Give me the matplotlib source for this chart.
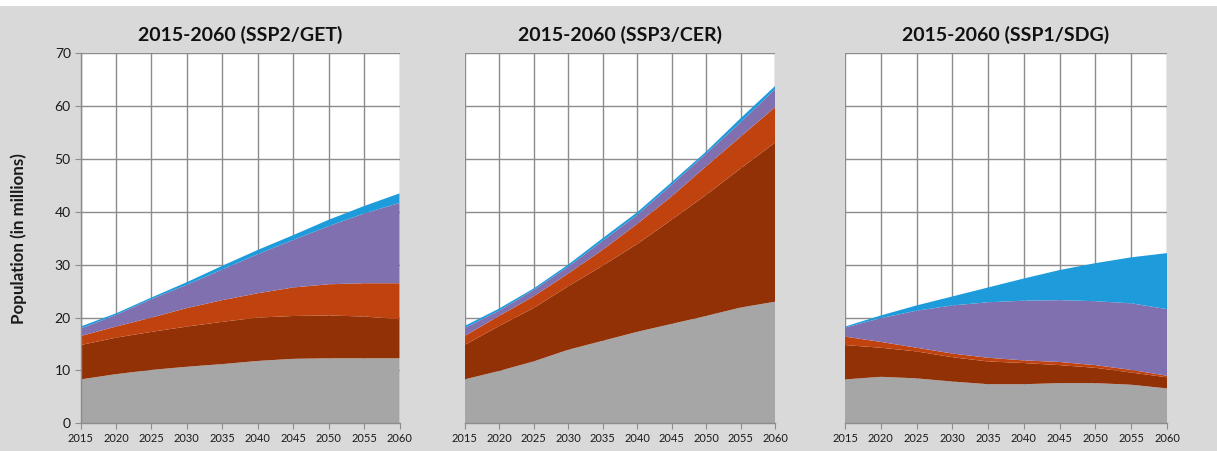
import matplotlib
matplotlib.use("Agg")
import matplotlib.pyplot as plt
import numpy as np
from matplotlib.patches import Rectangle

years = [2015, 2020, 2025, 2030, 2035, 2040, 2045, 2050, 2055, 2060]
titles = ["2015-2060 (SSP2/GET)", "2015-2060 (SSP3/CER)", "2015-2060 (SSP1/SDG)"]
colors = ["#A6A6A6", "#923006", "#C0430F", "#8170B0", "#1E9BDB"]

# cumulative tops of each band (millions)
ssp2_gray   = [8.3, 9.3, 10.1, 10.7, 11.2, 11.8, 12.2, 12.3, 12.3, 12.3]
ssp2_brown  = [14.8, 16.2, 17.3, 18.3, 19.2, 20.0, 20.3, 20.4, 20.2, 19.7]
ssp2_orange = [16.5, 18.3, 20.0, 21.8, 23.3, 24.6, 25.7, 26.3, 26.5, 26.5]
ssp2_purple = [17.9, 20.5, 23.5, 26.2, 29.1, 32.0, 34.7, 37.3, 39.7, 41.7]
ssp2_blue   = [18.3, 20.8, 23.8, 26.7, 29.8, 32.8, 35.6, 38.5, 41.1, 43.5]

ssp3_gray   = [8.3, 9.9, 11.7, 13.9, 15.6, 17.3, 18.8, 20.3, 21.9, 23.0]
ssp3_brown  = [14.8, 18.4, 21.8, 25.9, 29.8, 33.9, 38.5, 43.2, 48.2, 53.1]
ssp3_orange = [16.5, 20.3, 24.0, 28.3, 32.8, 37.7, 42.9, 48.6, 54.2, 59.8]
ssp3_purple = [18.0, 21.3, 25.2, 29.6, 34.5, 39.4, 45.1, 51.0, 56.9, 63.2]
ssp3_blue   = [18.4, 21.7, 25.5, 30.0, 35.0, 39.9, 45.6, 51.4, 57.7, 63.8]

ssp1_gray   = [8.3, 8.8, 8.5, 7.9, 7.4, 7.4, 7.6, 7.6, 7.3, 6.6]
ssp1_brown  = [14.8, 14.3, 13.6, 12.5, 11.7, 11.4, 11.0, 10.5, 9.6, 8.7]
ssp1_orange = [16.4, 15.4, 14.3, 13.2, 12.4, 11.9, 11.6, 11.0, 10.1, 9.0]
ssp1_purple = [18.1, 19.9, 21.3, 22.3, 22.9, 23.2, 23.3, 23.1, 22.7, 21.6]
ssp1_blue   = [18.3, 20.4, 22.3, 24.0, 25.7, 27.4, 29.0, 30.3, 31.4, 32.2]

panels = [
    [ssp2_gray, ssp2_brown, ssp2_orange, ssp2_purple, ssp2_blue],
    [ssp3_gray, ssp3_brown, ssp3_orange, ssp3_purple, ssp3_blue],
    [ssp1_gray, ssp1_brown, ssp1_orange, ssp1_purple, ssp1_blue],
]

plt.rcParams['font.family'] = ['Lato', 'DejaVu Sans']

W, H = 1217, 451
fig = plt.figure(figsize=(W / 100, H / 100), dpi=100)
fig.patch.set_facecolor("#D9D9D9")
fig.add_artist(Rectangle((0, 1 - 6 / H), 1, 6 / H, transform=fig.transFigure,
                         facecolor="white", edgecolor="none", zorder=0))

lefts = [80.5, 464.5, 845]
rights = [399.5, 775, 1167]
top_px, bot_px = 53.3, 423.3

for i, (series, title) in enumerate(zip(panels, titles)):
    l, r = lefts[i], rights[i]
    ax = fig.add_axes([l / W, (H - bot_px) / H, (r - l) / W, (bot_px - top_px) / H])
    ax.set_facecolor("white")
    lower = np.zeros(len(years))
    for s, c in zip(series, colors):
        upper = np.array(s, dtype=float)
        ax.fill_between(years, lower, upper, facecolor=c, edgecolor="none", zorder=2)
        lower = upper
    ax.set_xlim(2015, 2060)
    ax.set_ylim(0, 70)
    ax.set_xticks(years)
    ax.set_xticklabels([str(y) for y in years], fontsize=8, color="#1a1a1a")
    ax.set_yticks(range(0, 71, 10))
    ax.grid(True, color="#8C8C8C", linewidth=1.0, zorder=1)
    ax.set_axisbelow(True)
    for side in ["top", "right"]:
        ax.spines[side].set_visible(False)
    for side in ["left", "bottom"]:
        ax.spines[side].set_color("#8C8C8C")
        ax.spines[side].set_linewidth(1.0)
    ax.tick_params(axis="x", length=4, color="#8C8C8C", pad=3)
    if i == 0:
        ax.set_yticklabels([str(v) for v in range(0, 71, 10)], fontsize=10, color="#1a1a1a")
        ax.tick_params(axis="y", length=4, color="#8C8C8C", pad=3)
        ax.set_ylabel("Population (in millions)", fontsize=12.2, fontweight="bold",
                      color="#1a1a1a")
        ax.yaxis.set_label_coords(-(80.5 - 27) / (r - l), 0.5)
    else:
        ax.tick_params(axis="y", length=0, labelleft=False)
        ax.spines["left"].set_visible(False)
    ax.set_title(title, fontsize=14, fontweight="bold", color="#111111", pad=9)

fig.savefig("out.png", dpi=100, facecolor=fig.get_facecolor())
